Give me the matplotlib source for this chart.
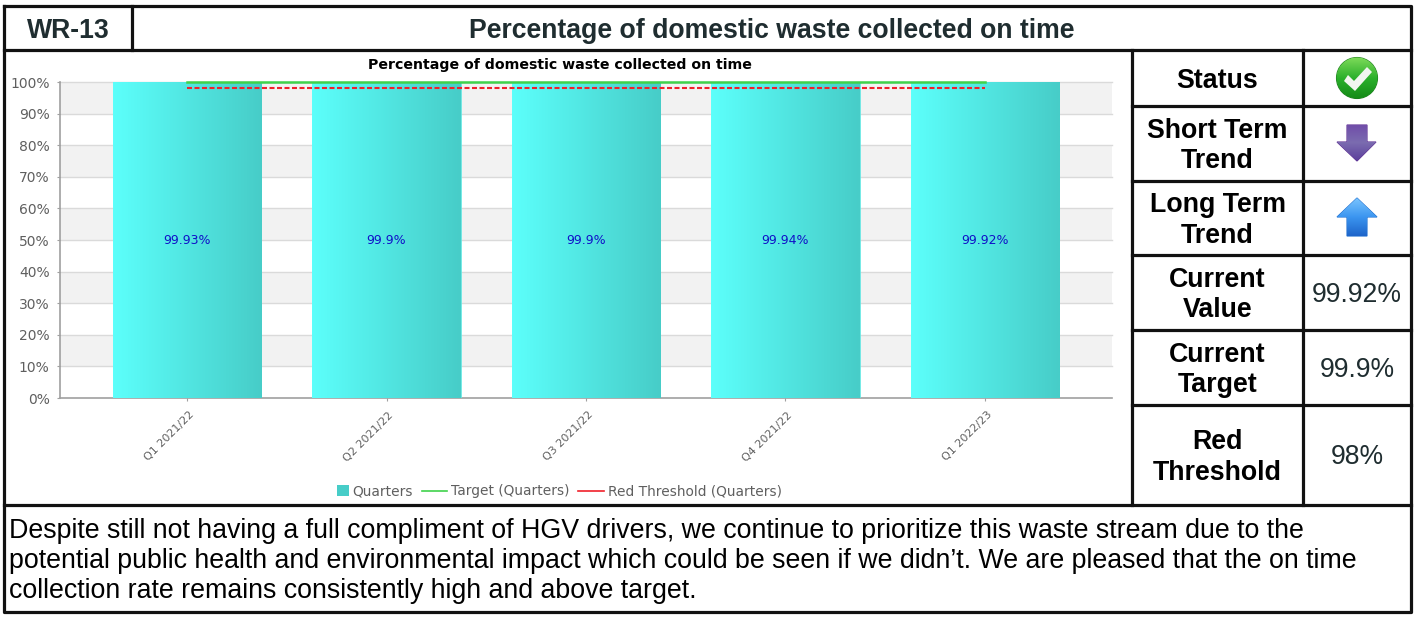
#!/usr/bin/env python3
"""Quarterly scorecard for WR-13: on-time domestic waste collection."""

import numpy as np
import matplotlib
matplotlib.use("Agg")
import matplotlib.pyplot as plt
from matplotlib.colors import LinearSegmentedColormap
from matplotlib.legend_handler import HandlerPatch
from matplotlib.lines import Line2D
from matplotlib.patches import Circle, Patch, Polygon, Rectangle
from matplotlib.transforms import ScaledTranslation

W, H = 1415, 619

quarters = ["Q1 2021/22", "Q2 2021/22", "Q3 2021/22", "Q4 2021/22", "Q1 2022/23"]
collected = [99.93, 99.9, 99.9, 99.94, 99.92]
target = [99.9, 99.9, 99.9, 99.9, 99.9]
red_threshold = [98, 98, 98, 98, 98]
y_ticks = list(range(0, 101, 10))

code = "WR-13"
heading = "Percentage of domestic waste collected on time"
side_labels = ["Status", "Short Term\nTrend", "Long Term\nTrend",
               "Current\nValue", "Current\nTarget", "Red\nThreshold"]
side_values = [None, None, None, "99.92%", "99.9%", "98%"]
commentary = [
    "Despite still not having a full compliment of HGV drivers, we continue to prioritize this waste stream due to the",
    "potential public health and environmental impact which could be seen if we didn’t. We are pleased that the on time",
    "collection rate remains consistently high and above target.",
]

SANS = "Liberation Sans"
CHART_FONT = "DejaVu Sans"
GREY = "#5f5f5f"


def px_axes(fig, left, top, right, bottom):
    return fig.add_axes([left / W, 1 - bottom / H, (right - left) / W, (bottom - top) / H])


def gradient_patch(ax, patch, colors, extent, vertical=False):
    # paint a linear gradient and clip it to the given patch
    cmap = LinearSegmentedColormap.from_list("grad", colors)
    ramp = np.linspace(0, 1, 128)
    ramp = ramp.reshape(-1, 1) if vertical else ramp.reshape(1, -1)
    img = ax.imshow(ramp, cmap=cmap, extent=extent, aspect="auto", origin="upper", zorder=patch.get_zorder())
    img.set_clip_path(patch)


def square_swatch(legend, orig_handle, xdescent, ydescent, width, height, fontsize):
    # legend swatch is a small square hugging the label instead of a wide box
    side = fontsize * 0.82
    return Rectangle((width - side, (height - side) / 2), side, side)


fig = plt.figure(figsize=(W / 100, H / 100), dpi=100, facecolor="white")

# bar chart
ax = px_axes(fig, 60, 82, 1112, 398)
x = np.arange(len(quarters))
bars = ax.bar(x, collected, width=0.745, color="none", edgecolor="#5ee6e2", linewidth=0.6, zorder=3)
for bar in bars:
    x0, w, h = bar.get_x(), bar.get_width(), bar.get_height()
    gradient_patch(ax, bar, ["#5CFFFB", "#47CDC8"], (x0, x0 + w, 0, h))

ax.set_xlim(-0.6366, 4.6366)
ax.set_ylim(0, 100)
for lo in y_ticks[:-1]:
    if (lo // 10) % 2 == 1:
        ax.axhspan(lo, lo + 10, color="#F2F2F2", lw=0, zorder=0)
for t in y_ticks[1:]:
    ax.axhline(t, color="#DADADA", lw=1.0, zorder=1, clip_on=False)

ax.plot(x, target, color="#3FD24B", lw=1.8, zorder=4, clip_on=False)
ax.plot(x, red_threshold, color="#F0202A", lw=1.5, ls=(0, (2.4, 1.2)), zorder=4)

for xi, v in zip(x, collected):
    ax.text(xi, v / 2, f"{v:g}%", color="#1010C8", fontsize=9, family=CHART_FONT,
            ha="center", va="center", zorder=5)

ax.set_yticks(y_ticks)
ax.set_yticklabels([f"{t}%" for t in y_ticks], fontsize=10, color=GREY, family=CHART_FONT)
ax.set_xticks(x)
ax.set_xticklabels(quarters, rotation=45, ha="right", va="top", rotation_mode="anchor",
                   fontsize=8.0, color=GREY, family=CHART_FONT)
ax.tick_params(axis="both", length=2.5, width=0.8, color="#A0A0A0", pad=5)
ax.tick_params(axis="x", pad=6)
nudge = ScaledTranslation(1.5 / 100, 0, fig.dpi_scale_trans)
for label in ax.get_xticklabels():
    label.set_transform(label.get_transform() + nudge)
for side in ["top", "right"]:
    ax.spines[side].set_visible(False)
for side in ["left", "bottom"]:
    ax.spines[side].set_color("#A0A0A0")
    ax.spines[side].set_linewidth(1.2)

fig.text(559.5 / W, 1 - 65 / H, heading, fontsize=10.2, fontweight="bold", family=CHART_FONT,
         ha="center", va="center", color="black")

swatch = Patch(facecolor="#47CDC8", edgecolor="none", label="Quarters")
handles = [swatch,
           Line2D([], [], color="#3FD24B", lw=1.2, label="Target (Quarters)"),
           Line2D([], [], color="#F0202A", lw=1.2, label="Red Threshold (Quarters)")]
fig.legend(handles=handles, loc="center", bbox_to_anchor=(552.5 / W, 1 - 491.5 / H), ncol=3, frameon=False,
           prop={"family": CHART_FONT, "size": 9.9}, labelcolor=GREY, columnspacing=0.62,
           handlelength=1.85, handletextpad=0.3, borderpad=0,
           handler_map={swatch: HandlerPatch(patch_func=square_swatch)})

# table frame and text sit on a full-figure overlay in pixel units
ov = fig.add_axes([0, 0, 1, 1], facecolor="none", zorder=10)
ov.axis("off")

LW = 2.3
def rule(xs, ys):
    ov.plot(xs, ys, color="#111111", lw=LW, solid_capstyle="projecting")

rule([4, 1411, 1411, 4, 4], [6, 6, 612, 612, 6])
rule([4, 1411], [50, 50])
rule([132, 132], [6, 50])
rule([4, 1411], [505, 505])
rule([1132, 1132], [50, 505])
rule([1303, 1303], [50, 505])
row_edges = [50, 106, 181, 255, 330, 405, 505]
for y in row_edges[1:-1]:
    rule([1132, 1411], [y, y])

ov.text(68, 31.5, code, fontsize=19.2, fontweight="bold", family=SANS, color="#1F2D30", ha="center", va="center")
ov.text(772, 31.5, heading, fontsize=19.15, fontweight="bold", family=SANS, color="#1F2D30", ha="center", va="center")

for i, (label, value) in enumerate(zip(side_labels, side_values)):
    cy = (row_edges[i] + row_edges[i + 1]) / 2 + 2.5
    ov.text(1217.5, cy, label, fontsize=19.3, fontweight="bold", family=SANS, color="black",
            ha="center", va="center", linespacing=1.22)
    if value:
        ov.text(1357, cy, value, fontsize=19.1, family=SANS, color="#1F2D30", ha="center", va="center")

# status tick
disc = Circle((1357, 78), 20.5, facecolor="none", edgecolor="#1c7d1c", lw=0.8, zorder=3)
ov.add_patch(disc)
gradient_patch(ov, disc, ["#7FDB5A", "#2BB02B", "#138A16"], (1336, 1378, 99, 57), vertical=True)
ov.add_patch(Polygon([(1344, 81), (1348, 75), (1354, 81), (1367, 67), (1372, 72), (1355, 91)],
                     closed=True, facecolor="#F2F5F0", edgecolor="none", zorder=4))

# trend arrows
down = Polygon([(1347, 125), (1367, 125), (1367, 142), (1376, 142), (1357, 161), (1337, 142), (1347, 142)],
               closed=True, facecolor="none", edgecolor="#5B2A91", lw=0.8, zorder=3)
ov.add_patch(down)
gradient_patch(ov, down, ["#6F4AA8", "#7B6CB0", "#5A3D9A"], (1336, 1378, 162, 123), vertical=True)

up = Polygon([(1357, 198), (1377, 217), (1367, 217), (1367, 236), (1347, 236), (1347, 217), (1337, 217)],
             closed=True, facecolor="none", edgecolor="#1E6FD0", lw=0.8, zorder=3)
ov.add_patch(up)
gradient_patch(ov, up, ["#7CC6FF", "#3B95F0", "#1C62C8"], (1336, 1378, 237, 197), vertical=True)
ov.set_xlim(0, W)
ov.set_ylim(H, 0)

for y, line in zip([531.5, 561.5, 591.5], commentary):
    ov.text(9, y, line, fontsize=19.23, family=SANS, color="black", ha="left", va="center")

fig.savefig("out.png", dpi=100)
